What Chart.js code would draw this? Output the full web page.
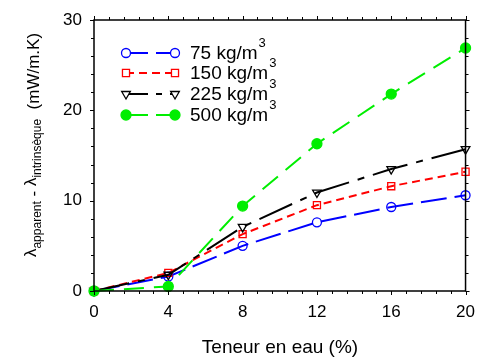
<!DOCTYPE html>
<html>
<head>
<meta charset="utf-8">
<script src="https://cdn.jsdelivr.net/npm/chart.js@4/dist/chart.umd.min.js"></script>
<style>
html,body{margin:0;padding:0;background:#fff;}
#wrap{width:478px;height:358px;position:relative;}
</style>
</head>
<body>
<div id="wrap"><canvas id="c" width="478" height="358"></canvas></div>
<script>
const waterContent = [0, 4, 8, 12, 16, 20];
const s75  = [0, 1.6, 5.0, 7.6, 9.3, 10.6];
const s150 = [0, 2.0, 6.3, 9.5, 11.6, 13.2];
const s225 = [0, 1.8, 7.1, 10.9, 13.5, 15.7];
const s500 = [0, 0.5, 9.4, 16.3, 21.8, 26.9];
const seriesLabels = ['75 kg/m', '150 kg/m', '225 kg/m', '500 kg/m'];
const xTicks = [0, 4, 8, 12, 16, 20];
const yTicks = [0, 10, 20, 30];
const FONT = 'Liberation Sans, Arial, sans-serif';

function pts(arr){ return waterContent.map((x,i)=>({x:x,y:arr[i]})); }

const styles = [
  {color:'#0000ff', dash:[26,8], point:'circle', fill:false, r:4.5, rot:0},
  {color:'#ff0000', dash:[8,5], point:'rect', fill:false, r:5, rot:0},
  {color:'#000000', dash:[36,9,7,9], point:'triangle', fill:false, r:5, rot:180},
  {color:'#00ee00', dash:[20,10], point:'circle', fill:true, r:5, rot:0}
];
const data = [s75, s150, s225, s500];

const datasets = data.map((d,i)=>({
  label: seriesLabels[i],
  data: pts(d),
  borderColor: styles[i].color,
  backgroundColor: styles[i].fill ? styles[i].color : '#ffffff',
  pointBorderColor: styles[i].color,
  pointBackgroundColor: styles[i].fill ? styles[i].color : 'rgba(255,255,255,0)',
  pointStyle: styles[i].point,
  pointRadius: styles[i].r,
  pointRotation: styles[i].rot,
  pointBorderWidth: 1.3,
  borderWidth: 2,
  borderDash: styles[i].dash,
  tension: 0,
  clip: false,
  order: 4 - i
}));

const decor = {
  id:'decor',
  afterDraw(chart){
    const ctx = chart.ctx;
    const a = chart.chartArea;
    const xs = chart.scales.x, ys = chart.scales.y;
    ctx.save();
    ctx.strokeStyle = '#000';
    ctx.lineWidth = 1.5;
    ctx.setLineDash([]);
    ctx.strokeRect(a.left, a.top, a.right - a.left, a.bottom - a.top);
    ctx.lineWidth = 1;
    for (let k = 0; k <= 25; k++) {
      const v = k * 0.8;
      const px = Math.round(xs.getPixelForValue(v)) + 0.5;
      const L = (k % 5 === 0) ? 4 : 3;
      ctx.beginPath();
      ctx.moveTo(px, a.bottom); ctx.lineTo(px, a.bottom + L);
      ctx.moveTo(px, a.top); ctx.lineTo(px, a.top - L);
      ctx.stroke();
    }
    for (let v = 0; v <= 30; v += 2) {
      const py = Math.round(ys.getPixelForValue(v)) + 0.5;
      const L = (v % 10 === 0) ? 4 : 3;
      ctx.beginPath();
      ctx.moveTo(a.left, py); ctx.lineTo(a.left - L, py);
      ctx.moveTo(a.right, py); ctx.lineTo(a.right + L, py);
      ctx.stroke();
    }
    // legend
    ctx.textBaseline = 'middle';
    ctx.fillStyle = '#000';
    const ly = [53, 73, 94, 115];
    const lx1 = 126, lx2 = 175, tx = 190;
    for (let i = 0; i < 4; i++) {
      const st = styles[i];
      ctx.save();
      ctx.strokeStyle = st.color;
      ctx.lineWidth = 2;
      const legendDash = [[22,8],[8,5],[22,8,6,8],[22,8]][i];
      ctx.setLineDash(legendDash);
      ctx.beginPath(); ctx.moveTo(lx1, ly[i]); ctx.lineTo(lx2, ly[i]); ctx.stroke();
      ctx.setLineDash([]);
      ctx.lineWidth = 1.3;
      ctx.fillStyle = st.fill ? st.color : '#ffffff';
      Chart.helpers.drawPoint(ctx, {pointStyle: st.point, radius: st.r, rotation: st.rot, borderWidth:1.3}, lx1, ly[i]);
      Chart.helpers.drawPoint(ctx, {pointStyle: st.point, radius: st.r, rotation: st.rot, borderWidth:1.3}, lx2, ly[i]);
      ctx.restore();
      ctx.fillStyle = '#000';
      ctx.font = '19px ' + FONT;
      ctx.textAlign = 'left';
      ctx.fillText(seriesLabels[i], tx, ly[i] + 1);
      const w = ctx.measureText(seriesLabels[i]).width;
      ctx.font = '13px ' + FONT;
      ctx.fillText('3', tx + w + 1, ly[i] - 10);
    }
    // x title
    ctx.font = '19px ' + FONT;
    ctx.textAlign = 'center';
    ctx.textBaseline = 'middle';
    ctx.fillText('Teneur en eau (%)', 280, 348);
    // y title
    ctx.save();
    ctx.translate(39, 145);
    ctx.rotate(-Math.PI / 2);
    ctx.textBaseline = 'alphabetic';
    const parts = [
      {t:'λ', f:'17px', dy:-3},
      {t:'apparent', f:'12px', dy:2},
      {t:' - ', f:'17px', dy:0},
      {t:'λ', f:'17px', dy:-3},
      {t:'intrinsèque', f:'12px', dy:2},
      {t:'  (mW/m.K)', f:'17px', dy:0}
    ];
    let total = 0;
    parts.forEach(p => { ctx.font = p.f + ' ' + FONT; p.w = ctx.measureText(p.t).width; total += p.w; });
    let cx = -total / 2;
    ctx.textAlign = 'left';
    parts.forEach(p => { ctx.font = p.f + ' ' + FONT; ctx.fillText(p.t, cx, p.dy); cx += p.w; });
    ctx.restore();
    ctx.restore();
  }
};

new Chart(document.getElementById('c'), {
  type: 'line',
  data: { datasets: datasets },
  options: {
    responsive: false,
    animation: false,
    devicePixelRatio: 1,
    layout: { padding: { left: 0, right: 11, top: 20, bottom: 0 } },
    plugins: { legend: { display: false }, tooltip: { enabled: false } },
    scales: {
      x: {
        type: 'linear', min: 0, max: 20,
        afterFit(s){ s.height = 67; },
        afterBuildTicks(s){ s.ticks = xTicks.map(v=>({value:v})); },
        grid: { display: false },
        border: { display: false },
        ticks: { color:'#000', font:{ size:17, family: FONT }, padding: 3, maxRotation: 0 }
      },
      y: {
        type: 'linear', min: 0, max: 30,
        afterFit(s){ s.width = 94; },
        afterBuildTicks(s){ s.ticks = yTicks.map(v=>({value:v})); },
        grid: { display: false },
        border: { display: false },
        ticks: { color:'#000', font:{ size:17, family: FONT }, padding: 4 }
      }
    }
  },
  plugins: [decor]
});
</script>
</body>
</html>
